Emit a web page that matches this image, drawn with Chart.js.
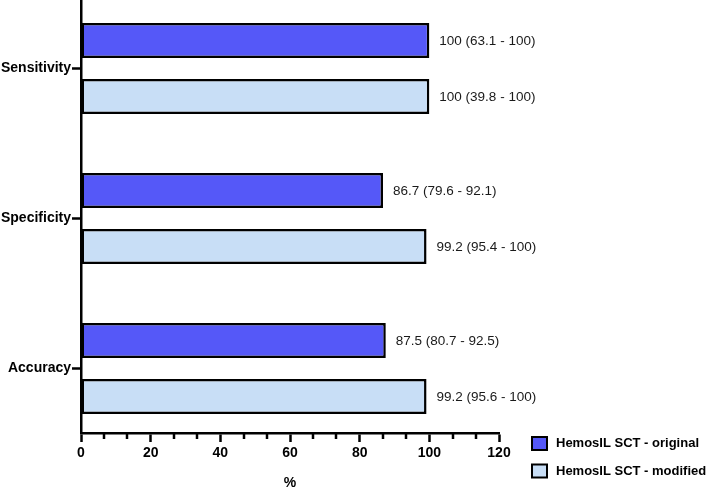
<!DOCTYPE html>
<html>
<head>
<meta charset="utf-8">
<script src="https://cdn.jsdelivr.net/npm/chart.js@4"></script>
<style>
  html, body { margin: 0; padding: 0; background: #fff; }
  #wrap { width: 709px; height: 490px; }
</style>
</head>
<body>
<div id="wrap"><canvas id="c" width="709" height="490"></canvas></div>
<script>
const categories = ["Sensitivity", "Specificity", "Accuracy"];
const seriesNames = ["HemosIL SCT - original", "HemosIL SCT - modified"];
const originalValues = [100, 86.7, 87.5];
const originalLow = [63.1, 79.6, 80.7];
const originalHigh = [100, 92.1, 92.5];
const modifiedValues = [100, 99.2, 99.2];
const modifiedLow = [39.8, 95.4, 95.6];
const modifiedHigh = [100, 100, 100];
const xTicks = [0, 20, 40, 60, 80, 100, 120];
const xMinorStep = 20 / 3;

const FONT = "'Liberation Sans', Arial, Helvetica, sans-serif";
const colors = ["#5558F8", "#C8DEF6"];

const toPoints = vals => vals.map((v, i) => ({ x: v, y: i }));
const labelText = (v, lo, hi) => v.map((val, i) => `${val} (${lo[i]} - ${hi[i]})`);
const labelsBySeries = [
  labelText(originalValues, originalLow, originalHigh),
  labelText(modifiedValues, modifiedLow, modifiedHigh)
];

const extras = {
  id: 'extras',
  afterDatasetsDraw(chart) {
    const ctx = chart.ctx;
    ctx.save();
    ctx.font = `13.5px ${FONT}`;
    ctx.fillStyle = '#1a1a1a';
    ctx.textAlign = 'left';
    ctx.textBaseline = 'middle';
    chart.data.datasets.forEach((ds, di) => {
      const meta = chart.getDatasetMeta(di);
      meta.data.forEach((bar, i) => {
        ctx.fillText(labelsBySeries[di][i], bar.x + 10, bar.y + 0.5);
      });
    });
    ctx.restore();
  },
  afterDraw(chart) {
    const ctx = chart.ctx;
    const xs = chart.scales.x;
    const bottom = chart.chartArea.bottom;
    ctx.save();
    ctx.strokeStyle = '#000';
    ctx.lineWidth = 2.5;
    for (let k = 1; k < 18; k++) {
      if (k % 3 === 0) continue;
      const px = Math.round(xs.getPixelForValue(k * xMinorStep));
      ctx.beginPath();
      ctx.moveTo(px, bottom);
      ctx.lineTo(px, bottom + 6);
      ctx.stroke();
    }
    ctx.restore();
    ctx.save();
    ctx.font = `bold 13px ${FONT}`;
    ctx.textAlign = 'left';
    ctx.textBaseline = 'middle';
    const ys = [443.5, 471];
    chart.data.datasets.forEach((ds, di) => {
      const y = ys[di];
      ctx.fillStyle = ds.backgroundColor;
      ctx.fillRect(532, y - 6.5, 15, 13);
      ctx.strokeStyle = '#000';
      ctx.lineWidth = 2;
      ctx.strokeRect(532, y - 6.5, 15, 13);
      ctx.fillStyle = '#000';
      ctx.fillText(ds.label, 556, y);
    });
    ctx.restore();
  }
};

new Chart(document.getElementById('c'), {
  type: 'bar',
  data: {
    datasets: [
      { label: seriesNames[0], data: toPoints(originalValues), backgroundColor: colors[0] },
      { label: seriesNames[1], data: toPoints(modifiedValues), backgroundColor: colors[1] }
    ]
  },
  options: {
    indexAxis: 'y',
    responsive: false,
    animation: false,
    devicePixelRatio: 1,
    layout: { padding: { left: 0, right: 210, top: 0, bottom: 0 } },
    datasets: {
      bar: {
        borderColor: '#000',
        borderWidth: 2.5,
        borderSkipped: false,
        categoryPercentage: 0.7467,
        barPercentage: 0.625
      }
    },
    plugins: {
      legend: { display: false },
      tooltip: { enabled: false }
    },
    scales: {
      x: {
        type: 'linear',
        min: 0,
        max: 120,
        offset: false,
        afterBuildTicks: s => { s.ticks = xTicks.map(v => ({ value: v })); },
        grid: { offset: false, drawOnChartArea: false, drawTicks: true, tickLength: 9, tickWidth: 2.5, tickColor: '#000' },
        border: { display: true, color: '#000', width: 2.5 },
        ticks: { color: '#000', padding: 3, font: { family: FONT, size: 14, weight: 'bold' } },
        title: { display: true, text: '%', color: '#000', padding: { top: 0, bottom: 0 }, font: { family: FONT, size: 14, weight: 'bold', lineHeight: 1 } },
        afterFit: s => { s.height = 57; s.paddingLeft = 0; s.paddingRight = 0; }
      },
      y: {
        type: 'linear',
        reverse: true,
        offset: false,
        min: -68.5 / 150,
        max: (433 - 68.5) / 150,
        afterBuildTicks: s => { s.ticks = categories.map((c, i) => ({ value: i })); },
        grid: { offset: false, drawOnChartArea: false, drawTicks: true, tickLength: 9, tickWidth: 2.5, tickColor: '#000' },
        border: { display: true, color: '#000', width: 2.5 },
        ticks: { color: '#000', padding: 1, font: { family: FONT, size: 14, weight: 'bold' }, callback: v => categories[v] },
        afterFit: s => { s.width = 81; s.paddingTop = 0; s.paddingBottom = 0; }
      }
    }
  },
  plugins: [extras]
});
</script>
</body>
</html>
